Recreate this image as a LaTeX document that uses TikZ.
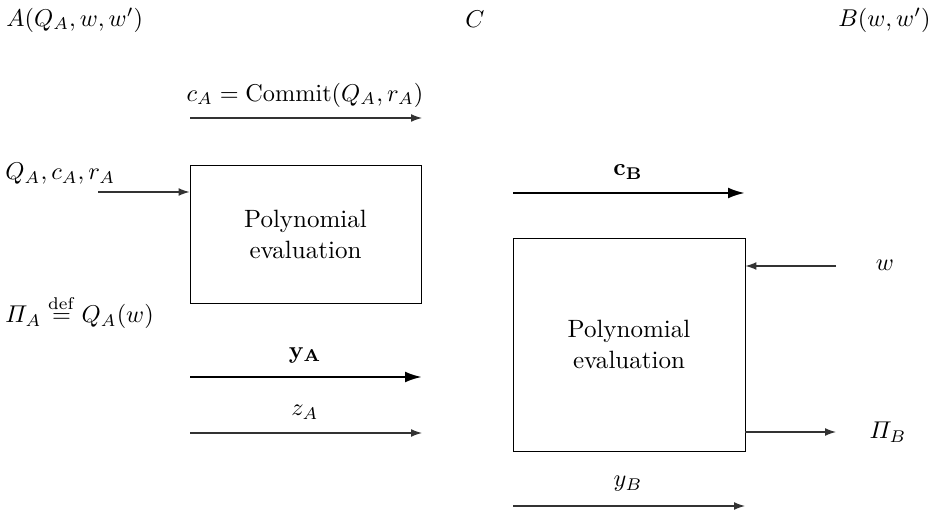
\documentclass[tikz,border=0pt]{standalone}
\usepackage{amsmath}
\usetikzlibrary{arrows.meta}
\begin{document}
\begin{tikzpicture}[x=0.4117pt,y=-0.4117pt,
  thinarrow/.style={line width=0.45pt,draw=black!80,-{Latex[length=4.5pt,width=3.2pt]}},
  thickarrow/.style={line width=1pt,-{Latex[length=7pt,width=4.5pt]}},
  procbox/.style={draw,line width=0.4pt,align=center,inner sep=0pt},
  lbl/.style={inner sep=0pt,font=\fontsize{10.3}{12.5}\selectfont}]
\useasboundingbox (0,0) rectangle (938,514);
% headers
\node[lbl,anchor=west] (hA) at (6,20) {$A(Q_A,w,w')$};
\node[lbl] (hC) at (475,19) {$C$};
\node[lbl,anchor=east] (hB) at (931,20) {$B(w,w')$};
% A side
\node[lbl] (cA) at (305,95) {$c_A=\mathrm{Commit}(Q_A,r_A)$};
\coordinate (cAs) at (190,118); \coordinate (cAe) at (422,118);
\draw[thinarrow] (cAs) -- (cAe);
\node[lbl,anchor=west] (inA) at (5,174) {$Q_A,c_A,r_A$};
\node[procbox,font=\fontsize{10.3}{12.5}\selectfont,minimum width=95.1pt,minimum height=57.2pt] (boxA) at (305.5,234.5) {Polynomial\\evaluation};
\coordinate (inAs) at (98,192);
\draw[thinarrow] (inAs) -- (inAs -| boxA.west);
\node[lbl,anchor=west] (piA) at (5,312) {$\varPi_A\stackrel{\mathrm{def}}{=}Q_A(w)$};
\node[lbl] (yA) at (305,355) {$\mathbf{y_A}$};
\coordinate (yAs) at (190,377); \coordinate (yAe) at (422,377);
\draw[thickarrow] (yAs) -- (yAe);
\node[lbl] (zA) at (305,412) {$z_A$};
\coordinate (zAs) at (190,433); \coordinate (zAe) at (422,433);
\draw[thinarrow] (zAs) -- (zAe);
% B side
\node[lbl] (cB) at (628,172) {$\mathbf{c_B}$};
\coordinate (cBs) at (513,193); \coordinate (cBe) at (745,193);
\draw[thickarrow] (cBs) -- (cBe);
\node[procbox,font=\fontsize{10.3}{12.5}\selectfont,minimum width=95.5pt,minimum height=87.7pt] (boxB) at (629,344.5) {Polynomial\\evaluation};
\node[lbl] (wB) at (885,265) {$w$};
\coordinate (wBs) at (836,266);
\draw[thinarrow] (wBs) -- (wBs -| boxB.east);
\node[lbl] (piB) at (888,432) {$\varPi_B$};
\coordinate (piBe) at (836,432);
\draw[thinarrow] (piBe -| boxB.east) -- (piBe);
\node[lbl] (yB) at (628,484) {$y_B$};
\coordinate (yBs) at (513,506); \coordinate (yBe) at (745,506);
\draw[thinarrow] (yBs) -- (yBe);
\end{tikzpicture}
\end{document}
